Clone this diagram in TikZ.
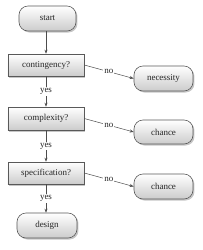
\documentclass[tikz,border=0pt]{standalone}
\usepackage{fontspec}
\setmainfont{Liberation Serif}
\usetikzlibrary{arrows.meta,shadows}
\begin{document}
\begin{tikzpicture}[x=1pt,y=-1pt,
  every node/.style={font=\fontsize{9}{10}\selectfont, text=black!85},
  basebox/.style={draw=black!65, line width=0.6pt, top color=white, bottom color=black!20,
     drop shadow={shadow xshift=1.5pt, shadow yshift=-1.5pt, opacity=0.45}},
  qbox/.style={basebox, rectangle, minimum width=76pt, minimum height=22pt, inner sep=0pt},
  term/.style={basebox, rectangle, rounded corners=9pt, minimum width=59pt, minimum height=25pt, inner sep=0pt},
  conn/.style={draw=black!70, line width=0.5pt, -{Stealth[length=4pt,width=3pt]}},
  lbl/.style={fill=white, inner sep=1pt}]
\useasboundingbox (0,0) rectangle (202,250);
\node[term, minimum width=57pt] (start) at (47.5,18.5) {start};
\node[qbox] (cont) at (46,65) {contingency?};
\node[term] (nec) at (163.5,78.5) {necessity};
\node[qbox, minimum height=23pt] (comp) at (46,118.5) {complexity?};
\node[term, minimum height=24pt] (ch1) at (163.5,132) {chance};
\node[qbox] (spec) at (46,173) {specification?};
\node[term] (ch2) at (163.5,186.5) {chance};
\node[term, minimum width=60pt] (design) at (47,225.5) {design};

\draw[conn] (start.south -| cont.north) -- (cont.north);
\draw[conn] (cont.south) -- node[lbl] {yes} (comp.north);
\draw[conn] (comp.south) -- node[lbl] {yes} (spec.north);
\draw[conn] (spec.south) -- node[lbl] {yes} (design.north -| spec.south);
\draw[conn] (cont.east) -- node[lbl] {no} (nec.west);
\draw[conn] (comp.east) -- node[lbl] {no} (ch1.west);
\draw[conn] (spec.east) -- node[lbl] {no} (ch2.west);
\end{tikzpicture}
\end{document}
